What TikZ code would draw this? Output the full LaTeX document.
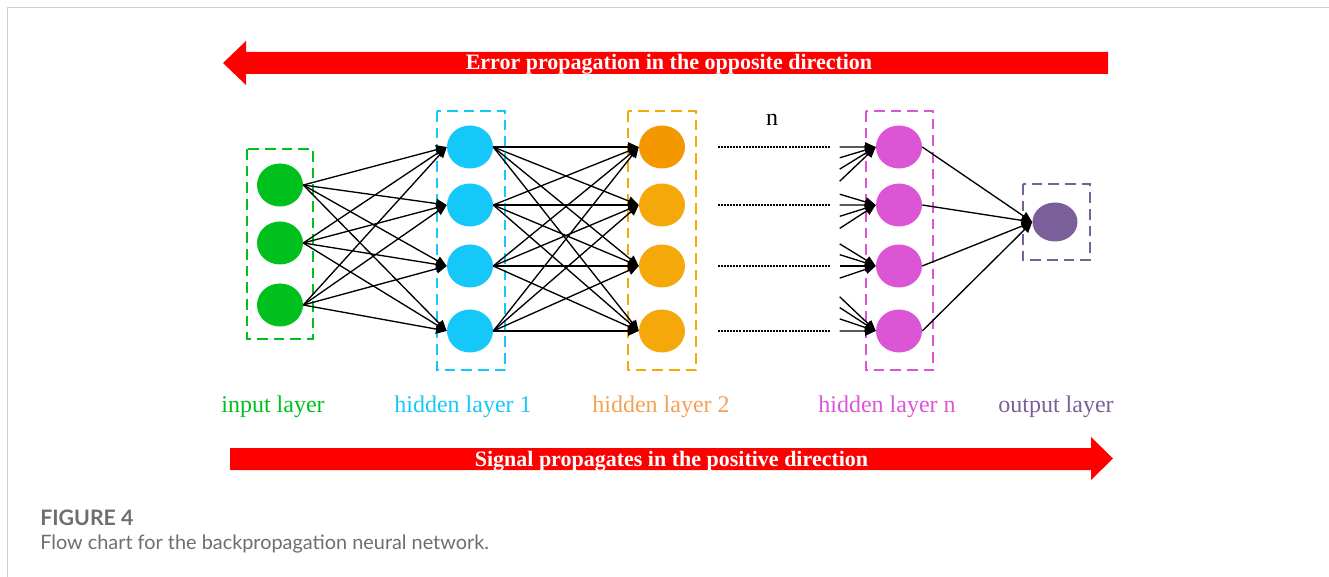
\documentclass[tikz,border=0pt]{standalone}
\usepackage{fontspec}
\setmainfont{Liberation Serif}
\newfontfamily\capfont{Lato}
\usepackage{xcolor}
\usepackage{tikz}
\usetikzlibrary{shapes.geometric,arrows.meta,positioning,calc}

\definecolor{inGreen}{RGB}{0,192,30}
\definecolor{hidBlue}{RGB}{22,200,250}
\definecolor{hidOrange}{RGB}{245,168,10}
\definecolor{hidOrangeTop}{RGB}{245,152,0}
\definecolor{hidMagenta}{RGB}{220,85,212}
\definecolor{outPurple}{RGB}{122,95,155}
\definecolor{lblOrange}{RGB}{245,160,85}
\definecolor{capGray}{RGB}{110,110,110}
\definecolor{frameGray}{RGB}{208,208,208}

\begin{document}
\begin{tikzpicture}[
        x=0.75pt, y=-0.75pt,
        neuron/.style={
            ellipse,
            minimum width=34.5pt,
            minimum height=32.25pt,
            inner sep=0pt
        },
        layer_box/.style={
            line width=1.3pt,
            dashed,
            dash pattern=on 8pt off 4.5pt
        },
        link/.style={
            draw=black,
            line width=1pt,
            -{Triangle[length=8pt,width=7pt]}
        },
        dot_line/.style={
            draw=black,
            line width=0.9pt,
            dash pattern=on 1.5pt off 0.8pt
        },
        big_arrow/.style={
            fill=red
        },
        arrow_text/.style={
            text=white,
            anchor=base,
            inner sep=0pt,
            font=\fontsize{16.5}{18}\selectfont\bfseries
        },
        layer_label/.style={
            anchor=base,
            inner sep=0pt,
            font=\fontsize{18}{20}\selectfont
        }
    ]
        \useasboundingbox (0,0) rectangle (1329,577);

        % Frame
        \draw[frameGray, line width=1.2pt] (7.5,577) -- (7.5,7.5) -- (1329,7.5);

        % Error arrow (top)
        \fill[big_arrow] (1108,52) -- (246,52) -- (246,41) -- (223,63)
            -- (246,85) -- (246,74) -- (1108,74) -- cycle;
        \node[arrow_text] (errtxt) at (669,70) {Error propagation in the opposite direction};

        % Layer boxes
        \draw[layer_box, draw=inGreen] (247,149) rectangle (313,339);
        \draw[layer_box, draw=hidBlue] (437,111) rectangle (505,370);
        \draw[layer_box, draw=hidOrange] (628,111) rectangle (696,370);
        \draw[layer_box, draw=hidMagenta] (866,111) rectangle (933,370);
        \draw[layer_box, draw=outPurple] (1023,184) rectangle (1090,260);

        % Neurons
        \foreach \y [count=\i] in {185,243,305}
            \node[neuron, fill=inGreen] (in\i) at (280,\y) {};
        \foreach \y/\oc [count=\i] in {147/hidOrangeTop,205/hidOrange,266/hidOrange,331/hidOrange} {
            \node[neuron, fill=hidBlue] (ha\i) at (470,\y) {};
            \node[neuron, fill=\oc] (hb\i) at (662,\y) {};
            \node[neuron, fill=hidMagenta] (hn\i) at (899,\y) {};
            \coordinate (dl\i) at (718,\y);
            \coordinate (dr\i) at (830,\y);
            \coordinate (v\i) at (682,\y);
        }
        \node[neuron, minimum width=33.75pt, minimum height=29.25pt, fill=outPurple] (out) at (1055,222) {};

        % Connections
        \foreach \i in {1,2,3}
            \foreach \j in {1,...,4}
                \draw[link] (in\i.east) -- (ha\j.west);
        \foreach \i in {1,...,4}
            \foreach \j in {1,...,4}
                \draw[link] (ha\i.east) -- (hb\j.west);
        \foreach \i in {1,...,4} {
            \draw[dot_line] (dl\i) -- (dr\i);
            \foreach \j in {1,...,4} {
                \coordinate (st\i\j) at ($(hn\j.west)!0.186!(v\i)$);
                \draw[link] (st\i\j) -- (hn\j.west);
            }
            \draw[link] (hn\i.east) -- (out.west);
        }
        \node[layer_label] (nlbl) at (772,126) {n};

        % Labels
        \node[layer_label, text=inGreen] (lin) at (273,412) {input layer};
        \node[layer_label, text=hidBlue] (lha) at (463,412) {hidden layer 1};
        \node[layer_label, text=lblOrange] (lhb) at (661,412) {hidden layer 2};
        \node[layer_label, text=hidMagenta] (lhn) at (887,412) {hidden layer n};
        \node[layer_label, text=outPurple] (lout) at (1056,412) {output layer};

        % Signal arrow (bottom)
        \fill[big_arrow] (230,448) -- (1091,448) -- (1091,437) -- (1113,458.5)
            -- (1091,480) -- (1091,470) -- (230,470) -- cycle;
        \node[arrow_text] (sigtxt) at (671.5,466) {Signal propagates in the positive direction};

        % Caption
        \node[anchor=base west, inner sep=0pt, text=capGray,
              font=\capfont\fontsize{16}{18}\selectfont\bfseries] (capnum) at (40,525) {FIGURE 4};
        \node[anchor=base west, inner sep=0pt, text=capGray,
              font=\capfont\fontsize{14.9}{17}\selectfont] (captxt) at (40,549) {Flow chart for the backpropagation neural network.};
    \end{tikzpicture}
\end{document}
